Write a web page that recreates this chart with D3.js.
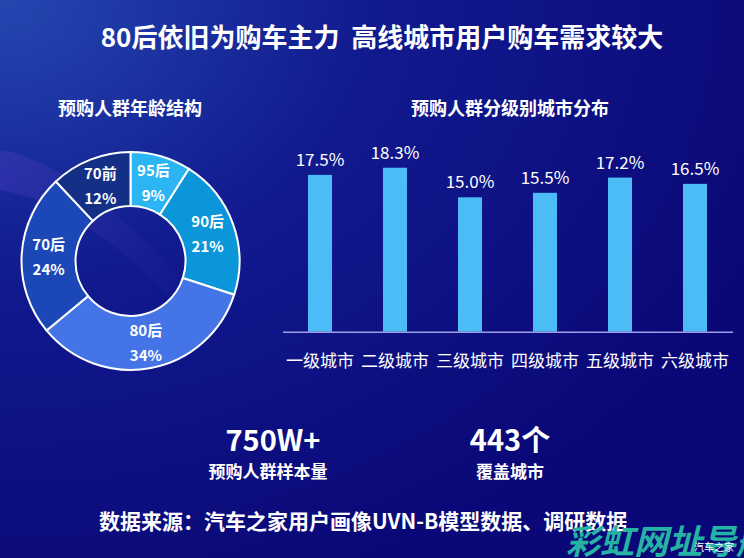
<!DOCTYPE html>
<html><head><meta charset="utf-8">
<script src="https://cdn.jsdelivr.net/npm/d3@7"></script>
<style>
html,body{margin:0;padding:0;background:#0a0878;}
svg{display:block;}
text{font-family:"Noto Sans CJK SC","Microsoft YaHei",sans-serif;white-space:pre;}
</style></head>
<body>
<svg id="c" width="744" height="558"></svg>
<script>
// ---- data ----
const title = "80后依旧为购车主力\u00a0\u00a0高线城市用户购车需求较大";
const pieTitle = "预购人群年龄结构";
const barTitle = "预购人群分级别城市分布";
const ageGroups = ["95后", "90后", "80后", "70后", "70前"];
const agePct = [9, 21, 34, 24, 12];
const ageColors = ["#2bb5f2", "#0a96d8", "#4574e6", "#1b48b6", "#142f86"];
const cityTiers = ["一级城市", "二级城市", "三级城市", "四级城市", "五级城市", "六级城市"];
const cityPct = [17.5, 18.3, 15.0, 15.5, 17.2, 16.5];
const statValues = ["750W+", "443个"];
const statLabels = ["预购人群样本量", "覆盖城市"];
const source = "数据来源：汽车之家用户画像UVN-B模型数据、调研数据";

const svg = d3.select("#c");
const W = 744, H = 558;

// ---- background ----
const defs = svg.append("defs");
const bg = defs.append("radialGradient").attr("id","bg").attr("cx","0").attr("cy","0").attr("r","1.1");
bg.append("stop").attr("offset","0").attr("stop-color","#2447b0");
bg.append("stop").attr("offset","0.45").attr("stop-color","#111a8e");
bg.append("stop").attr("offset","1").attr("stop-color","#0a0878");
svg.append("rect").attr("width",W).attr("height",H).attr("fill","url(#bg)");
const streak = defs.append("linearGradient").attr("id","streak").attr("x1","0").attr("y1","0").attr("x2","1").attr("y2","0");
streak.append("stop").attr("offset","0").attr("stop-color","#6a40d0").attr("stop-opacity","0.25");
streak.append("stop").attr("offset","1").attr("stop-color","#6a40d0").attr("stop-opacity","0");
svg.append("path").attr("d","M0,150 C60,160 120,210 200,300 L200,330 C120,240 60,200 0,190 Z").attr("fill","url(#streak)");

// ---- title ----
svg.append("text").attr("x",382).attr("y",47).attr("text-anchor","middle")
  .attr("fill","#fff").attr("font-size",26).attr("font-weight","bold").text(title);
svg.append("text").attr("x",130).attr("y",115).attr("text-anchor","middle")
  .attr("fill","#fff").attr("font-size",18).attr("font-weight","bold").text(pieTitle);
svg.append("text").attr("x",510).attr("y",115).attr("text-anchor","middle")
  .attr("fill","#fff").attr("font-size",18).attr("font-weight","bold").text(barTitle);

// ---- donut ----
const cx = 130.5, cy = 261, rO = 109, rI = 55;
const pie = d3.pie().sort(null).value(d => d.v);
const arcs = pie(ageGroups.map((g,i) => ({g, v: agePct[i], c: ageColors[i]})));
const arc = d3.arc().innerRadius(rI).outerRadius(rO);
const labelArc = d3.arc().innerRadius(82).outerRadius(82);
const pg = svg.append("g").attr("transform",`translate(${cx},${cy})`);
pg.selectAll("path").data(arcs).join("path")
  .attr("d",arc).attr("fill",d=>d.data.c).attr("stroke","#ffffff").attr("stroke-width",2);
const lab = pg.selectAll("g.lab").data(arcs).join("g").attr("class","lab")
  .attr("transform",d=>`translate(${labelArc.centroid(d)})`);
lab.append("text").attr("text-anchor","middle").attr("y",-6).attr("fill","#fff")
  .attr("font-size",15).attr("font-weight","bold").text(d=>d.data.g);
lab.append("text").attr("text-anchor","middle").attr("y",19).attr("fill","#fff")
  .attr("font-size",15).attr("font-weight","bold").text(d=>d.data.v+"%");

// ---- bars ----
const x = d3.scaleBand().domain(cityTiers).range([282.5, 732.5]).paddingInner(0.68).paddingOuter(0.34);
const y = d3.scaleLinear().domain([0, 20]).range([331.7, 152.5]);
const bg2 = svg.append("g");
bg2.selectAll("rect").data(cityPct).join("rect")
  .attr("x",(d,i)=>x(cityTiers[i])).attr("width",x.bandwidth())
  .attr("y",d=>y(d)).attr("height",d=>y(0)-y(d)).attr("fill","#4bbcf5");
bg2.selectAll("text.v").data(cityPct).join("text").attr("class","v")
  .attr("x",(d,i)=>x(cityTiers[i])+x.bandwidth()/2).attr("y",d=>y(d)-9)
  .attr("text-anchor","middle").attr("fill","#fff").attr("font-size",17)
  .attr("font-family","'Open Sans','Noto Sans',sans-serif").text(d=>d.toFixed(1)+"%");
const xAxis = d3.axisBottom(x).tickSize(0).tickPadding(0);
const ax = svg.append("g").attr("transform",`translate(0,${y(0)})`).call(xAxis);
ax.select(".domain").attr("stroke","#9c9ee6").attr("stroke-width",1.5);
ax.selectAll("text").attr("fill","#fff").attr("font-size",17).attr("dy",0).attr("y",35)
  .attr("font-family","'Noto Sans CJK SC',sans-serif");

// ---- stats ----
const statX = [273, 510];
statValues.forEach((v,i)=>{
  svg.append("text").attr("x",statX[i]).attr("y",451).attr("text-anchor","middle")
    .attr("fill","#fff").attr("font-size",29).attr("font-weight","bold")
    .attr("font-family","'Open Sans','Noto Sans CJK SC',sans-serif").text(v);
  svg.append("text").attr("x",statX[i]-5*(1-i)).attr("y",478).attr("text-anchor","middle")
    .attr("fill","#fff").attr("font-size",17).attr("font-weight","bold").text(statLabels[i]);
});

// ---- source ----
svg.append("text").attr("x",99).attr("y",529).attr("fill","#fff")
  .attr("font-size",21).attr("font-weight","bold").text(source);

// ---- watermark ----
svg.append("text").attr("x",566).attr("y",554).attr("fill","#25b3a3")
  .attr("font-size",34).attr("font-weight","bold").attr("font-style","italic")
  .text("彩虹网址导航");
svg.append("text").attr("x",694).attr("y",551).attr("fill","#fff")
  .attr("font-size",10).text("汽车之家");
</script>
</body></html>
